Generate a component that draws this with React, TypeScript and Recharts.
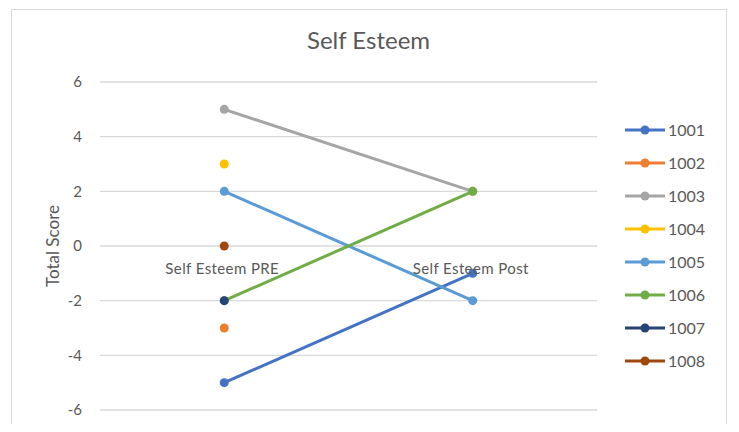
import React from 'react';
import { LineChart, Line, XAxis, YAxis, CartesianGrid, Legend } from 'recharts';

// Measurement occasions
const categories = ['Self Esteem PRE', 'Self Esteem Post'];

// Participant IDs and their colours
const participants = ['1001', '1002', '1003', '1004', '1005', '1006', '1007', '1008'];
const colors = ['#4472C4', '#ED7D31', '#A5A5A5', '#FFC000', '#5B9BD5', '#70AD47', '#264478', '#9E480E'];

// Total score per participant: [PRE, Post] (null = not measured)
const scores1001 = [-5, -1];
const scores1002 = [-3, null];
const scores1003 = [5, 2];
const scores1004 = [3, null];
const scores1005 = [2, -2];
const scores1006 = [-2, 2];
const scores1007 = [-2, null];
const scores1008 = [0, null];

const yTicks = [-6, -4, -2, 0, 2, 4, 6];

const allScores = [scores1001, scores1002, scores1003, scores1004, scores1005, scores1006, scores1007, scores1008];

const data = categories.map((name, i) => {
  const row: Record<string, string | number | null> = { name };
  participants.forEach((id, p) => {
    row[id] = allScores[p][i];
  });
  return row;
});

const W = 739;
const H = 432;
const X_AXIS_H = 2;
const MARGIN = { top: 82, right: 142, bottom: 22 - X_AXIS_H, left: 0 };
const FONT = 'Lato, "Open Sans", sans-serif';
const TEXT = '#595959';

// distance from the x axis line (plot bottom) up to value 0
const plotH = H - MARGIN.top - MARGIN.bottom - X_AXIS_H;
const zeroFromBottom = plotH / 2;

const CategoryTick = (props: any) => {
  const { x, y, payload } = props;
  return (
    <text
      x={x - 2}
      y={y - zeroFromBottom + 22}
      textAnchor="middle"
      fill={TEXT}
      fontSize={15}
      letterSpacing={0.4}
      fontFamily={FONT}
    >
      {payload.value}
    </text>
  );
};

const LegendContent = (props: any) => {
  const { payload } = props;
  return (
    <div style={{ fontFamily: FONT }}>
      {payload.map((entry: any) => (
        <div key={entry.value} style={{ height: 33, display: 'flex', alignItems: 'center' }}>
          <svg width={44} height={12}>
            <line x1={2} y1={6} x2={42} y2={6} stroke={entry.color} strokeWidth={3} />
            <circle cx={22} cy={6} r={4.5} fill={entry.color} />
          </svg>
          <span style={{ color: TEXT, fontSize: 16, marginLeft: 1 }}>{entry.value}</span>
        </div>
      ))}
    </div>
  );
};

export default function App() {
  return (
    <div style={{ position: 'relative', margin: -8, width: W, height: H, overflow: 'hidden', background: '#fff' }}>
      <div style={{ position: 'absolute', left: 1, top: 0, width: 2, height: H, background: '#d9d9d9' }} />
      <div
        style={{
          position: 'absolute',
          left: 11,
          top: 9,
          width: 716,
          height: 460,
          border: '1.5px solid #d9d9d9',
          boxSizing: 'border-box',
        }}
      />
      <div
        style={{
          position: 'absolute',
          left: 0,
          top: 25,
          width: W - 2,
          textAlign: 'center',
          fontFamily: FONT,
          fontSize: 24,
          color: TEXT,
        }}
      >
        Self Esteem
      </div>
      <div style={{ position: 'absolute', left: 0, top: 0 }}>
        <LineChart width={W} height={H} data={data} margin={MARGIN}>
          <CartesianGrid vertical={false} stroke="#d9d9d9" strokeWidth={1.3} />
          <YAxis
            width={100}
            domain={[-6, 6]}
            ticks={yTicks}
            axisLine={false}
            tickLine={false}
            tickMargin={12}
            tick={{ fill: TEXT, fontSize: 15, fontFamily: FONT }}
            label={{
              value: 'Total Score',
              angle: -90,
              position: 'center',
              dx: 3,
              fill: TEXT,
              fontSize: 17,
              fontFamily: FONT,
            }}
          />
          {participants.map((id, p) => (
            <Line
              key={id}
              dataKey={id}
              name={id}
              stroke={colors[p]}
              strokeWidth={3}
              dot={{ r: 4.5, fill: colors[p], stroke: colors[p], strokeWidth: 0 }}
              activeDot={false}
              connectNulls={false}
              isAnimationActive={false}
            />
          ))}
          <XAxis
            dataKey="name"
            scale="band"
            height={X_AXIS_H}
            axisLine={false}
            tickLine={false}
            tickMargin={0}
            tick={<CategoryTick />}
          />
          <Legend
            layout="vertical"
            align="center"
            verticalAlign="middle"
            wrapperStyle={{ left: 623, top: 113, width: 100 }}
            content={<LegendContent />}
          />
        </LineChart>
      </div>
    </div>
  );
}
